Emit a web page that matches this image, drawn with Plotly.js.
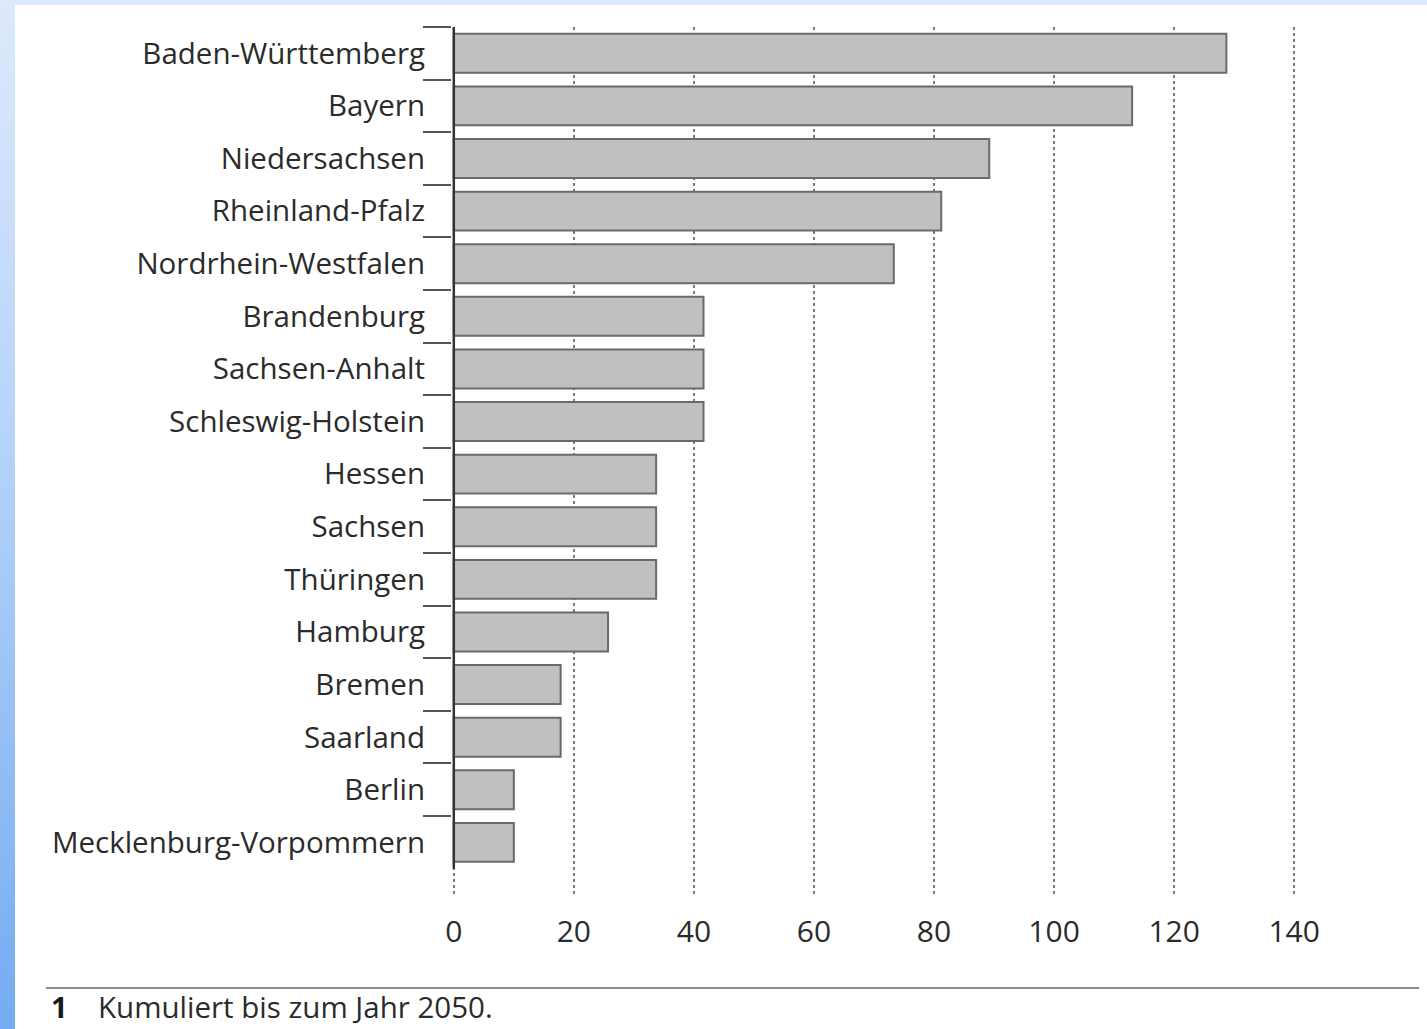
<!DOCTYPE html>
<html>
<head>
<meta charset="utf-8">
<script src="https://cdn.plot.ly/plotly-3.0.1.min.js"></script>
<style>
  html, body { margin: 0; padding: 0; width: 1427px; height: 1029px; overflow: hidden; }
  body { background: linear-gradient(to bottom, #dde9fc 0%, #b4d2f9 45%, #74abf2 100%); position: relative; }
  #chart { position: absolute; left: 15px; top: 5px; width: 1412px; height: 1024px; background: #ffffff; }
</style>
</head>
<body>
<div id="chart"></div>
<script>
const states = [
  "Baden-Württemberg", "Bayern", "Niedersachsen", "Rheinland-Pfalz", "Nordrhein-Westfalen",
  "Brandenburg", "Sachsen-Anhalt", "Schleswig-Holstein", "Hessen", "Sachsen", "Thüringen",
  "Hamburg", "Bremen", "Saarland", "Berlin", "Mecklenburg-Vorpommern"
];
const values = [128.7, 113, 89.2, 81.2, 73.3, 41.6, 41.6, 41.6, 33.7, 33.7, 33.7, 25.7, 17.8, 17.8, 10, 10];
const xTicks = [0, 20, 40, 60, 80, 100, 120, 140];
const footNumber = "1";
const footText = "Kumuliert bis zum Jahr 2050.";

const fontFam = "'Open Sans', 'Noto Sans', sans-serif";
const txtColor = "#2b2b2b";

const trace = {
  type: "bar",
  orientation: "h",
  x: values,
  y: states,
  width: 0.74,
  marker: { color: "#c0c0c0", line: { color: "#6a6a6a", width: 2 } },
  hoverinfo: "x+y"
};

// plot area: x=0 at page px 454, x=140 at 1294 (6 px/unit); top 27, bottom 895
const layout = {
  width: 1412,
  height: 1024,
  margin: { l: 437.2, r: 131.2, t: 22, b: 134, pad: 0 },
  paper_bgcolor: "#ffffff",
  plot_bgcolor: "#ffffff",
  showlegend: false,
  font: { family: fontFam, color: txtColor, size: 29 },
  xaxis: {
    range: [-0.3, 140.3],
    tickvals: xTicks,
    ticktext: xTicks.map(String),
    showgrid: true,
    gridcolor: "#7a7a7a",
    gridwidth: 1.5,
    griddash: "dot",
    zeroline: false,
    showline: false,
    ticks: "",
    ticklabelstandoff: 16,
    tickfont: { family: fontFam, color: txtColor, size: 30 },
    fixedrange: true
  },
  yaxis: {
    type: "category",
    categoryorder: "array",
    categoryarray: states,
    range: [16.0, -0.5],
    tickson: "boundaries",
    ticks: "outside",
    ticklen: 28,
    tickwidth: 1.5,
    tickcolor: "#555555",
    ticklabelstandoff: 26,
    showgrid: false,
    zeroline: false,
    showline: false,
    tickfont: { family: fontFam, color: txtColor, size: 29.5 },
    fixedrange: true
  },
  shapes: [
    { type: "line", xref: "x", yref: "y", x0: 0, x1: 0, y0: -0.5, y1: 15.5,
      line: { color: "#333333", width: 2.5 }, layer: "above" },
    { type: "line", xref: "paper", yref: "paper", x0: -0.481, x1: 1.146, y0: -0.1071, y1: -0.1071,
      line: { color: "#8a8a8a", width: 2 } }
  ],
  annotations: [
    { xref: "paper", yref: "paper", x: -0.478, y: -0.1285, xanchor: "left", yanchor: "middle",
      text: "<b>" + footNumber + "</b>", showarrow: false, font: { family: fontFam, color: "#1a1a1a", size: 29 } },
    { xref: "paper", yref: "paper", x: -0.4215, y: -0.1285, xanchor: "left", yanchor: "middle",
      text: footText, showarrow: false, font: { family: fontFam, color: txtColor, size: 29.5 } }
  ]
};

Plotly.newPlot("chart", [trace], layout, { displayModeBar: false, responsive: false });
</script>
</body>
</html>
